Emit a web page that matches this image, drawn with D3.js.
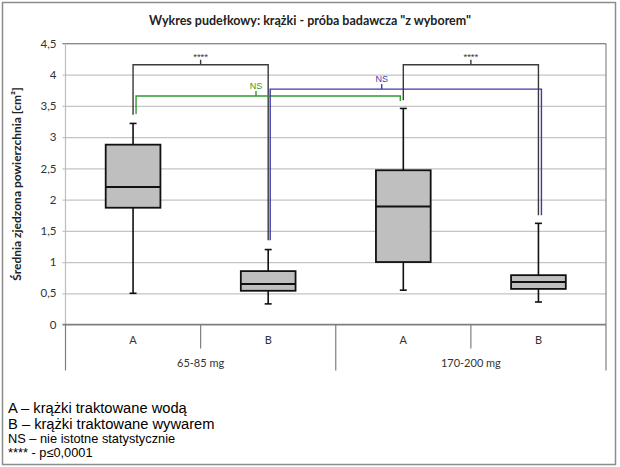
<!DOCTYPE html>
<html><head><meta charset="utf-8">
<script src="https://cdn.jsdelivr.net/npm/d3@7"></script>
<style>
body{margin:0;background:#fff;}
svg{display:block;}
</style></head>
<body>
<svg id="c" width="620" height="467"></svg>
<script>
// ---- data ----
const groups = ["65-85 mg", "170-200 mg"];
const treatments = ["A", "B"];
const whiskerMin = [0.50, 0.33, 0.55, 0.36];
const q1 = [1.87, 0.54, 1.00, 0.57];
const median = [2.20, 0.65, 1.89, 0.68];
const q3 = [2.88, 0.855, 2.47, 0.79];
const whiskerMax = [3.22, 1.20, 3.46, 1.62];
const yTicks = [0, 0.5, 1, 1.5, 2, 2.5, 3, 3.5, 4, 4.5];
// significance brackets: category indices, top value, leg bottoms, label
const brFrom = [0, 0, 1, 2];
const brTo = [1, 2, 3, 3];
const brTop = [4.16, 3.66, 3.77, 4.16];
const brLeftBottom = [3.36, 3.37, 1.35, 3.59];
const brRightBottom = [1.35, 3.58, 1.75, 1.75];
const brLabel = ["****", "NS", "NS", "****"];
const brLabelAt = [0.5, 0.91, 1.84, 2.5];
const legendLines = ["A – krążki traktowane wodą", "B – krążki traktowane wywarem", "NS – nie istotne statystycznie", "**** - p≤0,0001"];

// ---- styles ----
const brColor = ["#3a3a3a", "#2e9b2e", "#3c3caa", "#3a3a3a"];
const brOffL = [0, 3, 2, 0];
const brOffR = [0, -3, 3, 0];

const svg = d3.select("#c");
const m = {left: 65.5, right: 606, top: 43.5, bottom: 324.5};

const cats = [];
groups.forEach(g => treatments.forEach(t => cats.push(g + "|" + t)));

const x = d3.scaleBand().domain(cats).range([m.left, m.right]).padding(0);
const xg = d3.scaleBand().domain(groups).range([m.left, m.right]).padding(0);
const y = d3.scaleLinear().domain([0, 4.5]).range([m.bottom, m.top]);
const cx = i => x(cats[i]) + x.bandwidth() / 2;
const cxf = f => m.left + (f + 0.5) * x.bandwidth();

const loc = d3.formatLocale({decimal: ",", thousands: " ", grouping: [3], currency: ["", ""]});
const fmt = v => (v % 1 === 0 ? String(v) : loc.format(".1f")(v));

// outer frame
svg.append("rect").attr("x", 2.5).attr("y", 2.5).attr("width", 613).attr("height", 462)
  .attr("fill", "#fff").attr("stroke", "#8c8c8c").attr("stroke-width", 1.5);

// title
svg.append("text").attr("x", 310).attr("y", 25).attr("text-anchor", "middle")
  .attr("font-family", "Lato, 'Open Sans', sans-serif").attr("font-weight", "bold")
  .attr("font-size", 12.5).attr("fill", "#222")
  .text('Wykres pudełkowy: krążki - próba badawcza "z wyborem"');

// y axis with gridlines
const yAxis = d3.axisLeft(y).tickValues(yTicks).tickFormat(fmt)
  .tickSize(-(m.right - m.left)).tickPadding(9);
const gy = svg.append("g").attr("transform", `translate(${m.left},0)`).call(yAxis);
gy.select(".domain").remove();
gy.selectAll(".tick line").attr("stroke", "#c4c4c4").attr("stroke-width", 1.3)
  .attr("x1", -3);
gy.selectAll(".tick text").attr("font-family", "Lato, 'Open Sans', sans-serif")
  .attr("font-size", 11.5).attr("fill", "#333");
// top line darker
svg.append("line").attr("x1", m.left - 3).attr("x2", m.right).attr("y1", y(4.5)).attr("y2", y(4.5))
  .attr("stroke", "#8a8a8a").attr("stroke-width", 1.2);
// left and right plot borders
svg.append("line").attr("x1", m.left).attr("x2", m.left).attr("y1", m.top).attr("y2", m.bottom)
  .attr("stroke", "#bdbdbd").attr("stroke-width", 1.2);
svg.append("line").attr("x1", m.right).attr("x2", m.right).attr("y1", m.top).attr("y2", m.bottom)
  .attr("stroke", "#8a8a8a").attr("stroke-width", 1.2);

// y title
svg.append("text").attr("transform", `translate(21,${(m.top + m.bottom) / 2}) rotate(-90)`)
  .attr("text-anchor", "middle").attr("font-family", "Lato, 'Open Sans', sans-serif")
  .attr("font-weight", "bold").attr("font-size", 12).attr("fill", "#222")
  .text("Średnia zjedzona powierzchnia [cm²]");

// category axis
const axCol = "#7f7f7f";
svg.append("line").attr("x1", m.left - 3).attr("x2", m.right).attr("y1", m.bottom).attr("y2", m.bottom)
  .attr("stroke", axCol).attr("stroke-width", 1.3);
cats.forEach((c, i) => {
  if (i % 2 === 1) {
    svg.append("line").attr("x1", x(c)).attr("x2", x(c)).attr("y1", m.bottom).attr("y2", m.bottom + 24)
      .attr("stroke", axCol).attr("stroke-width", 1.2);
  }
  svg.append("text").attr("x", cx(i)).attr("y", m.bottom + 19).attr("text-anchor", "middle")
    .attr("font-family", "Lato, 'Open Sans', sans-serif").attr("font-size", 11).attr("fill", "#333")
    .text(c.split("|")[1]);
});
const gb = groups.map(g => xg(g)).concat([m.right]);
gb.forEach(v => {
  svg.append("line").attr("x1", v).attr("x2", v).attr("y1", m.bottom).attr("y2", m.bottom + 46)
    .attr("stroke", axCol).attr("stroke-width", 1.2);
});
groups.forEach(g => {
  svg.append("text").attr("x", xg(g) + xg.bandwidth() / 2).attr("y", m.bottom + 42).attr("text-anchor", "middle")
    .attr("font-family", "Lato, 'Open Sans', sans-serif").attr("font-size", 11).attr("fill", "#333")
    .text(g);
});

// boxes
const bw = x.bandwidth() * 0.405;
const cw = 7;
cats.forEach((c, i) => {
  const g = svg.append("g");
  const xc = cx(i);
  g.append("line").attr("x1", xc).attr("x2", xc).attr("y1", y(whiskerMax[i])).attr("y2", y(q3[i]))
    .attr("stroke", "#111").attr("stroke-width", 1.6);
  g.append("line").attr("x1", xc).attr("x2", xc).attr("y1", y(q1[i])).attr("y2", y(whiskerMin[i]))
    .attr("stroke", "#111").attr("stroke-width", 1.6);
  [whiskerMax[i], whiskerMin[i]].forEach(v => {
    g.append("line").attr("x1", xc - cw / 2).attr("x2", xc + cw / 2).attr("y1", y(v)).attr("y2", y(v))
      .attr("stroke", "#111").attr("stroke-width", 1.6);
  });
  g.append("rect").attr("x", xc - bw / 2).attr("y", y(q3[i])).attr("width", bw)
    .attr("height", y(q1[i]) - y(q3[i])).attr("fill", "#bfbfbf").attr("stroke", "#111").attr("stroke-width", 1.8);
  g.append("line").attr("x1", xc - bw / 2).attr("x2", xc + bw / 2).attr("y1", y(median[i])).attr("y2", y(median[i]))
    .attr("stroke", "#111").attr("stroke-width", 2);
});

// brackets
brFrom.forEach((f, k) => {
  const xl = cx(f) + brOffL[k], xr = cx(brTo[k]) + brOffR[k];
  const yt = y(brTop[k]);
  svg.append("path")
    .attr("d", `M${xl},${y(brLeftBottom[k])}V${yt}H${xr}V${y(brRightBottom[k])}`)
    .attr("fill", "none").attr("stroke", brColor[k]).attr("stroke-width", 1.4);
  const lx = cxf(brLabelAt[k]);
  svg.append("line").attr("x1", lx).attr("x2", lx).attr("y1", yt).attr("y2", yt - 5)
    .attr("stroke", brColor[k]).attr("stroke-width", 1.4);
  svg.append("text").attr("x", lx).attr("y", yt - 7).attr("text-anchor", "middle")
    .attr("font-family", "'Liberation Sans', Arial, sans-serif")
    .attr("font-size", brLabel[k] === "NS" ? 9 : 9.5).attr("fill", brColor[k])
    .attr("dy", brLabel[k] === "NS" ? 0 : 2)
    .text(brLabel[k]);
});

// legend
const lgSize = [14.7, 14.7, 12.8, 12.8];
const lgY = [412.5, 428.5, 443, 457];
legendLines.forEach((t, i) => {
  svg.append("text").attr("x", 8).attr("y", lgY[i])
    .attr("font-family", "'Liberation Sans', Arial, sans-serif").attr("font-size", lgSize[i])
    .attr("fill", "#000").text(t);
});
</script>
</body></html>
